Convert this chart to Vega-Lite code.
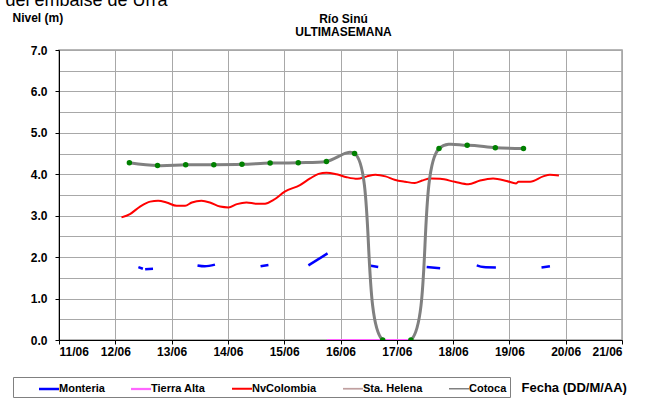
{
  "$schema": "https://vega.github.io/schema/vega-lite/v6.json",
  "width": 563,
  "height": 290,
  "autosize": {"type": "none"},
  "padding": {"left": 59, "top": 50, "right": 26, "bottom": 60},
  "background": "white",
  "config": {
    "font": "Liberation Sans",
    "view": {"stroke": "#a0a0a0", "strokeWidth": 1.5},
    "axis": {
      "labelFont": "Liberation Sans",
      "labelFontWeight": "bold",
      "labelFontSize": 12,
      "labelColor": "black",
      "domainColor": "black",
      "domainWidth": 1,
      "tickColor": "black",
      "tickSize": 4,
      "titleFont": "Liberation Sans",
      "titleColor": "black"
    }
  },
  "datasets": {
    "otros": [
      {"serie": "Monteria", "seg": "m1", "dia": 12.41, "nivel": 1.76},
      {"serie": "Monteria", "seg": "m1", "dia": 12.49, "nivel": 1.72},
      {"serie": "Monteria", "seg": "m1b", "dia": 12.53, "nivel": 1.71},
      {"serie": "Monteria", "seg": "m1b", "dia": 12.67, "nivel": 1.72},
      {"serie": "Monteria", "seg": "m2", "dia": 13.46, "nivel": 1.80},
      {"serie": "Monteria", "seg": "m2", "dia": 13.59, "nivel": 1.78},
      {"serie": "Monteria", "seg": "m2", "dia": 13.77, "nivel": 1.82},
      {"serie": "Monteria", "seg": "m3", "dia": 14.58, "nivel": 1.78},
      {"serie": "Monteria", "seg": "m3", "dia": 14.72, "nivel": 1.81},
      {"serie": "Monteria", "seg": "m4", "dia": 15.43, "nivel": 1.80},
      {"serie": "Monteria", "seg": "m4", "dia": 15.77, "nivel": 2.09},
      {"serie": "Monteria", "seg": "m5", "dia": 16.54, "nivel": 1.79},
      {"serie": "Monteria", "seg": "m5", "dia": 16.67, "nivel": 1.76},
      {"serie": "Monteria", "seg": "m6", "dia": 17.53, "nivel": 1.76},
      {"serie": "Monteria", "seg": "m6", "dia": 17.77, "nivel": 1.73},
      {"serie": "Monteria", "seg": "m7", "dia": 18.42, "nivel": 1.80},
      {"serie": "Monteria", "seg": "m7", "dia": 18.54, "nivel": 1.76},
      {"serie": "Monteria", "seg": "m7", "dia": 18.76, "nivel": 1.75},
      {"serie": "Monteria", "seg": "m8", "dia": 19.57, "nivel": 1.75},
      {"serie": "Monteria", "seg": "m8", "dia": 19.72, "nivel": 1.78},
      {"serie": "Tierra Alta", "seg": "t", "dia": 15.76, "nivel": 0},
      {"serie": "Tierra Alta", "seg": "t", "dia": 17.23, "nivel": 0},
      {"serie": "NvColombia", "seg": "n", "dia": 12.11, "nivel": 2.96},
      {"serie": "NvColombia", "seg": "n", "dia": 12.26, "nivel": 3.04},
      {"serie": "NvColombia", "seg": "n", "dia": 12.44, "nivel": 3.22},
      {"serie": "NvColombia", "seg": "n", "dia": 12.62, "nivel": 3.34},
      {"serie": "NvColombia", "seg": "n", "dia": 12.76, "nivel": 3.36},
      {"serie": "NvColombia", "seg": "n", "dia": 12.91, "nivel": 3.32},
      {"serie": "NvColombia", "seg": "n", "dia": 13.09, "nivel": 3.24},
      {"serie": "NvColombia", "seg": "n", "dia": 13.24, "nivel": 3.24},
      {"serie": "NvColombia", "seg": "n", "dia": 13.36, "nivel": 3.32},
      {"serie": "NvColombia", "seg": "n", "dia": 13.53, "nivel": 3.36},
      {"serie": "NvColombia", "seg": "n", "dia": 13.68, "nivel": 3.32},
      {"serie": "NvColombia", "seg": "n", "dia": 13.86, "nivel": 3.22},
      {"serie": "NvColombia", "seg": "n", "dia": 14.01, "nivel": 3.20},
      {"serie": "NvColombia", "seg": "n", "dia": 14.16, "nivel": 3.28},
      {"serie": "NvColombia", "seg": "n", "dia": 14.33, "nivel": 3.32},
      {"serie": "NvColombia", "seg": "n", "dia": 14.51, "nivel": 3.29},
      {"serie": "NvColombia", "seg": "n", "dia": 14.66, "nivel": 3.29},
      {"serie": "NvColombia", "seg": "n", "dia": 14.81, "nivel": 3.38},
      {"serie": "NvColombia", "seg": "n", "dia": 15.01, "nivel": 3.58},
      {"serie": "NvColombia", "seg": "n", "dia": 15.28, "nivel": 3.74},
      {"serie": "NvColombia", "seg": "n", "dia": 15.46, "nivel": 3.90},
      {"serie": "NvColombia", "seg": "n", "dia": 15.61, "nivel": 4.01},
      {"serie": "NvColombia", "seg": "n", "dia": 15.75, "nivel": 4.04},
      {"serie": "NvColombia", "seg": "n", "dia": 15.93, "nivel": 4.00},
      {"serie": "NvColombia", "seg": "n", "dia": 16.11, "nivel": 3.93},
      {"serie": "NvColombia", "seg": "n", "dia": 16.30, "nivel": 3.89},
      {"serie": "NvColombia", "seg": "n", "dia": 16.47, "nivel": 3.95},
      {"serie": "NvColombia", "seg": "n", "dia": 16.62, "nivel": 3.99},
      {"serie": "NvColombia", "seg": "n", "dia": 16.80, "nivel": 3.95},
      {"serie": "NvColombia", "seg": "n", "dia": 16.96, "nivel": 3.87},
      {"serie": "NvColombia", "seg": "n", "dia": 17.15, "nivel": 3.82},
      {"serie": "NvColombia", "seg": "n", "dia": 17.32, "nivel": 3.79},
      {"serie": "NvColombia", "seg": "n", "dia": 17.45, "nivel": 3.85},
      {"serie": "NvColombia", "seg": "n", "dia": 17.60, "nivel": 3.90},
      {"serie": "NvColombia", "seg": "n", "dia": 17.77, "nivel": 3.89},
      {"serie": "NvColombia", "seg": "n", "dia": 18.03, "nivel": 3.82},
      {"serie": "NvColombia", "seg": "n", "dia": 18.27, "nivel": 3.76},
      {"serie": "NvColombia", "seg": "n", "dia": 18.48, "nivel": 3.85},
      {"serie": "NvColombia", "seg": "n", "dia": 18.71, "nivel": 3.90},
      {"serie": "NvColombia", "seg": "n", "dia": 18.95, "nivel": 3.84},
      {"serie": "NvColombia", "seg": "n", "dia": 19.12, "nivel": 3.78},
      {"serie": "NvColombia", "seg": "n", "dia": 19.16, "nivel": 3.82},
      {"serie": "NvColombia", "seg": "n", "dia": 19.37, "nivel": 3.82},
      {"serie": "NvColombia", "seg": "n", "dia": 19.60, "nivel": 3.95},
      {"serie": "NvColombia", "seg": "n", "dia": 19.72, "nivel": 3.99},
      {"serie": "NvColombia", "seg": "n", "dia": 19.88, "nivel": 3.97}
    ],
    "cotoca": [
      {"serie": "Cotoca", "dia": 12.25, "nivel": 4.28},
      {"serie": "Cotoca", "dia": 12.75, "nivel": 4.21},
      {"serie": "Cotoca", "dia": 13.25, "nivel": 4.23},
      {"serie": "Cotoca", "dia": 13.75, "nivel": 4.23},
      {"serie": "Cotoca", "dia": 14.25, "nivel": 4.24},
      {"serie": "Cotoca", "dia": 14.75, "nivel": 4.27},
      {"serie": "Cotoca", "dia": 15.25, "nivel": 4.28},
      {"serie": "Cotoca", "dia": 15.75, "nivel": 4.31},
      {"serie": "Cotoca", "dia": 16.25, "nivel": 4.50},
      {"serie": "Cotoca", "dia": 16.75, "nivel": 0},
      {"serie": "Cotoca", "dia": 17.25, "nivel": 0},
      {"serie": "Cotoca", "dia": 17.75, "nivel": 4.62},
      {"serie": "Cotoca", "dia": 18.25, "nivel": 4.70},
      {"serie": "Cotoca", "dia": 18.75, "nivel": 4.64},
      {"serie": "Cotoca", "dia": 19.25, "nivel": 4.62}
    ]
  },
  "resolve": {"axis": {"x": "independent", "y": "independent"}},
  "layer": [
    {
      "data": {"name": "otros"},
      "mark": {"type": "line", "interpolate": "monotone", "clip": true},
      "encoding": {
        "x": {
          "field": "dia",
          "type": "quantitative",
          "scale": {"domain": [11, 21], "nice": false, "zero": false},
          "axis": {
            "grid": true,
            "gridColor": "#a8a8a8",
            "gridOpacity": 1,
            "gridWidth": 1,
            "values": [11, 12, 13, 14, 15, 16, 17, 18, 19, 20, 21],
            "labelExpr": "datum.value + '/06'",
            "labelPadding": 2,
            "title": "Fecha (DD/M/AA)",
            "titleX": 462,
            "titleY": 51,
            "titleAlign": "left",
            "titleAnchor": "start",
            "titleBaseline": "alphabetic",
            "titleFontSize": 13,
            "titleFontWeight": "bold"
          }
        },
        "y": {
          "field": "nivel",
          "type": "quantitative",
          "scale": {"domain": [0, 7], "nice": false},
          "axis": {
            "grid": true,
            "gridColor": "#a8a8a8",
            "gridOpacity": 1,
            "gridWidth": 1,
            "values": [0, 0.5, 1, 1.5, 2, 2.5, 3, 3.5, 4, 4.5, 5, 5.5, 6, 6.5, 7],
            "labelExpr": "datum.value % 1 === 0 ? format(datum.value, '.1f') : ''",
            "tickOpacity": {"condition": {"test": "datum.value % 1 !== 0", "value": 0}, "value": 1},
            "labelPadding": 8,
            "title": "Nivel (m)",
            "titleAngle": 0,
            "titleX": -47,
            "titleY": -29,
            "titleAlign": "left",
            "titleBaseline": "alphabetic",
            "titleFontSize": 12,
            "titleFontWeight": "bold"
          }
        },
        "color": {
          "field": "serie",
          "type": "nominal",
          "scale": {
            "domain": ["Monteria", "Tierra Alta", "NvColombia", "Sta. Helena", "Cotoca"],
            "range": ["#0000ff", "#ff66ff", "#ff0000", "#c0a0a0", "#808080"]
          },
          "legend": {
            "orient": "none",
            "legendX": -46,
            "legendY": 327,
            "direction": "horizontal",
            "columns": 5,
            "title": null,
            "strokeColor": "#808080",
            "fillColor": "white",
            "padding": 3,
            "symbolOffset": 24,
            "symbolType": "M-1.33,0L1.33,0",
            "symbolSize": 225,
            "labelFont": "Liberation Sans",
            "labelFontSize": 11,
            "labelFontWeight": "bold",
            "labelColor": "black",
            "labelOffset": 1,
            "columnPadding": 3
          }
        },
        "strokeWidth": {
          "field": "serie",
          "type": "nominal",
          "scale": {
            "domain": ["Monteria", "Tierra Alta", "NvColombia", "Sta. Helena", "Cotoca"],
            "range": [2.5, 1.5, 3, 1.5, 3]
          },
          "legend": {
            "orient": "none",
            "legendX": -46,
            "legendY": 327,
            "direction": "horizontal",
            "columns": 5,
            "title": null,
            "strokeColor": "#808080",
            "fillColor": "white",
            "padding": 3,
            "symbolOffset": 24,
            "symbolType": "M-1.33,0L1.33,0",
            "symbolSize": 225,
            "labelFont": "Liberation Sans",
            "labelFontSize": 11,
            "labelFontWeight": "bold",
            "labelColor": "black",
            "labelOffset": 1,
            "columnPadding": 3
          }
        },
        "detail": {"field": "seg", "type": "nominal"}
      }
    },
    {
      "data": {"name": "cotoca"},
      "mark": {"type": "line", "interpolate": "catmull-rom", "clip": true, "strokeWidth": 3},
      "encoding": {
        "x": {"field": "dia", "type": "quantitative", "axis": {"orient": "top", "labels": false, "ticks": false, "domain": false, "grid": false, "title": ["Río Sinú", "ULTIMASEMANA"], "titleX": 284, "titleY": -28, "titleAlign": "center", "titleAnchor": "middle", "titleBaseline": "alphabetic", "titleFontSize": 12, "titleFontWeight": "bold", "titleLineHeight": 13}},
        "y": {"field": "nivel", "type": "quantitative", "axis": null},
        "color": {"field": "serie", "type": "nominal"}
      }
    },
    {
      "data": {"name": "cotoca"},
      "mark": {"type": "point", "filled": true, "color": "#008000", "size": 30, "opacity": 1, "clip": true},
      "encoding": {
        "x": {"field": "dia", "type": "quantitative", "axis": null},
        "y": {"field": "nivel", "type": "quantitative", "axis": {"orient": "left", "labels": false, "ticks": false, "domain": false, "grid": false, "title": "del embalse de Urrá", "titleAngle": 0, "titleX": -54, "titleY": -45, "titleAlign": "left", "titleAnchor": "start", "titleBaseline": "alphabetic", "titleFontSize": 18, "titleFontWeight": "normal"}}
      }
    }
  ]
}
